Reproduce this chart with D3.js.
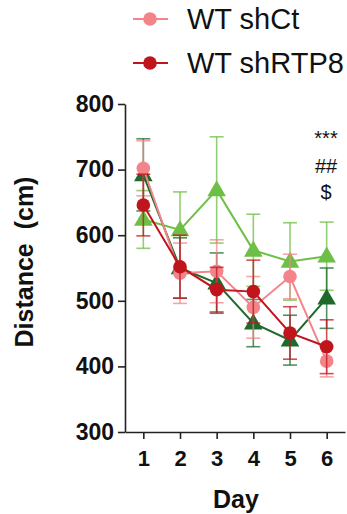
<!DOCTYPE html>
<html>
<head>
<meta charset="utf-8">
<script src="https://cdn.jsdelivr.net/npm/d3@7"></script>
<style>
  html, body { margin: 0; padding: 0; background: #fff; }
  svg { display: block; font-family: "Liberation Sans", Arial, sans-serif; }
</style>
</head>
<body>
<script>
// chart values
const days = [1, 2, 3, 4, 5, 6];
const yTicks = [300, 400, 500, 600, 700, 800];

const shCtMean = [702, 542, 545, 490, 537, 408];
const shCtErr = [42, 46, 48, 47, 34, 24];
const shRTP8Mean = [646, 552, 517, 514, 451, 430];
const shRTP8Err = [47, 48, 34, 48, 40, 41];
const darkGreenMean = [692, 550, 527, 466, 440, 504];
const darkGreenErr = [55, 46, 46, 36, 38, 46];
const lightGreenMean = [624, 608, 669, 577, 560, 568];
const lightGreenErr = [44, 58, 81, 55, 59, 52];

const legendLabels = ['WT shCt', 'WT shRTP8'];
const sigMarks = ['***', '##', '$'];

const width = 347;
const height = 514;

const svg = d3.select('body')
  .append('svg')
  .attr('width', width)
  .attr('height', height);

const x = d3.scaleLinear().domain([0.5, 6.5]).range([125, 345]);
const y = d3.scaleLinear().domain([300, 800]).range([432, 104]);

// series, drawn back to front
const series = [
  { name: 'lightGreen', mean: lightGreenMean, err: lightGreenErr, color: '#6dbf45', shape: 'triangle' },
  { name: 'darkGreen', mean: darkGreenMean, err: darkGreenErr, color: '#1e6a2c', shape: 'triangle' },
  { name: 'shCt', mean: shCtMean, err: shCtErr, color: '#f3858a', shape: 'circle' },
  { name: 'shRTP8', mean: shRTP8Mean, err: shRTP8Err, color: '#c1151e', shape: 'circle' },
];

// axes
const yAxis = svg.append('g')
  .attr('transform', 'translate(125,0)')
  .call(d3.axisLeft(y).tickValues(yTicks).tickSize(7).tickSizeOuter(0).tickPadding(4));
yAxis.select('.domain').attr('stroke', '#222').attr('stroke-width', 1.6);
yAxis.selectAll('.tick line').attr('stroke', '#222').attr('stroke-width', 1.6);
yAxis.selectAll('.tick text')
  .attr('font-size', 23).attr('font-weight', 'bold').attr('fill', '#111')
  .attr('font-family', '"Liberation Sans", Arial, sans-serif');

const xAxis = svg.append('g')
  .attr('transform', 'translate(0,432)')
  .call(d3.axisBottom(x).tickValues(days).tickFormat(d3.format('d')).tickSize(7).tickSizeOuter(0).tickPadding(11));
xAxis.select('.domain').attr('stroke', '#222').attr('stroke-width', 1.6);
xAxis.selectAll('.tick line').attr('stroke', '#222').attr('stroke-width', 1.6);
xAxis.selectAll('.tick text')
  .attr('font-size', 22).attr('font-weight', 'bold').attr('fill', '#111')
  .attr('font-family', '"Liberation Sans", Arial, sans-serif');

svg.append('text')
  .attr('x', 236).attr('y', 508)
  .attr('text-anchor', 'middle')
  .attr('font-size', 25).attr('font-weight', 'bold').attr('fill', '#111')
  .text('Day');

svg.append('text')
  .attr('transform', 'translate(33,262) rotate(-90)')
  .attr('text-anchor', 'middle')
  .attr('font-size', 25).attr('font-weight', 'bold').attr('fill', '#111')
  .attr('xml:space', 'preserve')
  .text('Distance  (cm)');

// data
const line = d3.line()
  .x((d, i) => x(days[i]))
  .y(d => y(d));

const tri = d3.symbol().type(d3.symbolTriangle).size(150);
const capW = 7;

series.forEach(s => {
  const g = svg.append('g').attr('class', s.name);

  const eb = g.append('g')
    .attr('stroke', s.color)
    .attr('stroke-width', 1.6)
    .attr('stroke-opacity', 0.75)
    .selectAll('g')
    .data(s.mean.map((m, i) => ({ day: days[i], m, e: s.err[i] })))
    .join('g');
  eb.append('line')
    .attr('x1', d => x(d.day)).attr('x2', d => x(d.day))
    .attr('y1', d => y(d.m - d.e)).attr('y2', d => y(d.m + d.e));
  eb.append('line')
    .attr('x1', d => x(d.day) - capW).attr('x2', d => x(d.day) + capW)
    .attr('y1', d => y(d.m + d.e)).attr('y2', d => y(d.m + d.e));
  eb.append('line')
    .attr('x1', d => x(d.day) - capW).attr('x2', d => x(d.day) + capW)
    .attr('y1', d => y(d.m - d.e)).attr('y2', d => y(d.m - d.e));

  g.append('path')
    .datum(s.mean)
    .attr('fill', 'none')
    .attr('stroke', s.color)
    .attr('stroke-width', 2)
    .attr('d', line);

  if (s.shape === 'circle') {
    g.selectAll('circle')
      .data(s.mean)
      .join('circle')
      .attr('cx', (d, i) => x(days[i]))
      .attr('cy', d => y(d))
      .attr('r', 6.8)
      .attr('fill', s.color);
  } else {
    g.selectAll('path.pt')
      .data(s.mean)
      .join('path')
      .attr('class', 'pt')
      .attr('transform', (d, i) => `translate(${x(days[i])},${y(d) + 1})`)
      .attr('d', tri)
      .attr('fill', s.color);
  }
});

// significance marks
svg.append('g')
  .selectAll('text')
  .data(sigMarks)
  .join('text')
  .attr('x', 326)
  .attr('y', (d, i) => [145, 173, 199][i])
  .attr('text-anchor', 'middle')
  .attr('font-size', 20)
  .attr('fill', '#111')
  .text(d => d);

// legend
const legendColors = ['#f3858a', '#c1151e'];
const lg = svg.append('g')
  .selectAll('g')
  .data(legendLabels)
  .join('g')
  .attr('transform', (d, i) => `translate(0,${[19, 63][i]})`);
lg.append('line')
  .attr('x1', 133).attr('x2', 168)
  .attr('stroke', (d, i) => legendColors[i])
  .attr('stroke-width', 2);
lg.append('circle')
  .attr('cx', 150).attr('r', 6.8)
  .attr('fill', (d, i) => legendColors[i]);
lg.append('text')
  .attr('x', 187).attr('y', 10)
  .attr('font-size', 29)
  .attr('fill', '#111')
  .text(d => d);
</script>
</body>
</html>
